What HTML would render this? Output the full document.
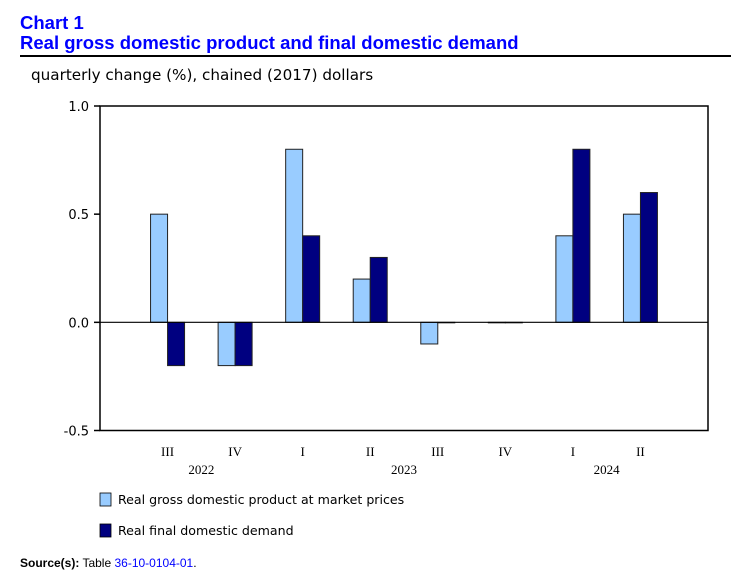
<!DOCTYPE html>
<html><head><meta charset="utf-8"><style>
body{margin:0;background:#fff;width:731px;height:577px;overflow:hidden;position:relative;font-family:"Liberation Sans",sans-serif}
.t{position:absolute;left:20px;color:#0000ff;font-weight:bold;font-size:18.5px;line-height:20px}
</style></head><body>
<div class="t" style="top:13px">Chart 1</div>
<div class="t" style="top:33px">Real gross domestic product and final domestic demand</div>
<div style="position:absolute;left:20px;top:55px;width:711px;height:2px;background:#000"></div>
<svg id="c" width="731" height="577" style="position:absolute;left:0;top:0">
<text x="31" y="80" font-family="DejaVu Sans,sans-serif" font-size="15.2">quarterly change (%), chained (2017) dollars</text>
<g id="g"></g>
<rect x="100" y="493" width="11" height="13" fill="#99ccff" stroke="#000" stroke-width="0.8"/>
<text x="118" y="504" font-family="DejaVu Sans,sans-serif" font-size="12.6">Real gross domestic product at market prices</text>
<rect x="100" y="524" width="11" height="13" fill="#000080" stroke="#000" stroke-width="0.8"/>
<text x="118" y="535" font-family="DejaVu Sans,sans-serif" font-size="12.6">Real final domestic demand</text>
<text x="20" y="567" font-family="Liberation Sans,sans-serif" font-size="12"><tspan font-weight="bold">Source(s):</tspan> Table <tspan fill="#0000ff">36-10-0104-01</tspan>.</text>
</svg>
<script>
const categories=["III","IV","I","II","III","IV","I","II"];
const years=[["2022",0,1],["2023",2,5],["2024",6,7]];
const gdp=[0.5,-0.2,0.8,0.2,-0.1,0.0,0.4,0.5];
const fdd=[-0.2,-0.2,0.4,0.3,0.0,0.0,0.8,0.6];
const yTicks=[1.0,0.5,0.0,-0.5];
const NS="http://www.w3.org/2000/svg",g=document.getElementById('g');
const L=100,R=708,T=106,B=430.5,ymax=1.0,ymin=-0.5;
const y=v=>T+(ymax-v)/(ymax-ymin)*(B-T);
const x=i=>L+(i+1)*(R-L)/(categories.length+1);
function mk(t,a){const e=document.createElementNS(NS,t);for(const k in a)e.setAttribute(k,a[k]);g.appendChild(e);return e;}
const frame=mk('rect',{x:L,y:T,width:R-L,height:B-T,fill:'none',stroke:'#000','stroke-width':1.5});


yTicks.forEach(v=>{const tk=mk('line',{x1:L-6,x2:L,y1:y(v),y2:y(v),stroke:'#000','stroke-width':1.5});


const tl=mk('text',{x:L-11,y:y(v)+5,'text-anchor':'end','font-family':'DejaVu Sans,sans-serif','font-size':13});
tl.textContent=v.toFixed(1);

});
const bw=17;
categories.forEach((c,i)=>{
[[gdp[i],-bw,'#99ccff','bar-gdp'],[fdd[i],0,'#000080','bar-fdd']].forEach(([v,o,col,n])=>{
const r=mk('rect',{x:x(i)+o,y:Math.min(y(v),y(0)),width:bw,height:Math.max(Math.abs(y(v)-y(0)),0.5),fill:col,stroke:'#222','stroke-width':1});

});
const t=mk('text',{x:x(i),y:456,'text-anchor':'middle','font-family':'Liberation Serif,serif','font-size':13});
t.textContent=c;

});
const z=mk('line',{x1:L,x2:R,y1:y(0),y2:y(0),stroke:'#000','stroke-width':1.2});


years.forEach(([yr,a,b])=>{const t=mk('text',{x:(x(a)+x(b))/2,y:474,'text-anchor':'middle','font-family':'Liberation Serif,serif','font-size':13});
t.textContent=yr;

});
</script>
</body></html>
